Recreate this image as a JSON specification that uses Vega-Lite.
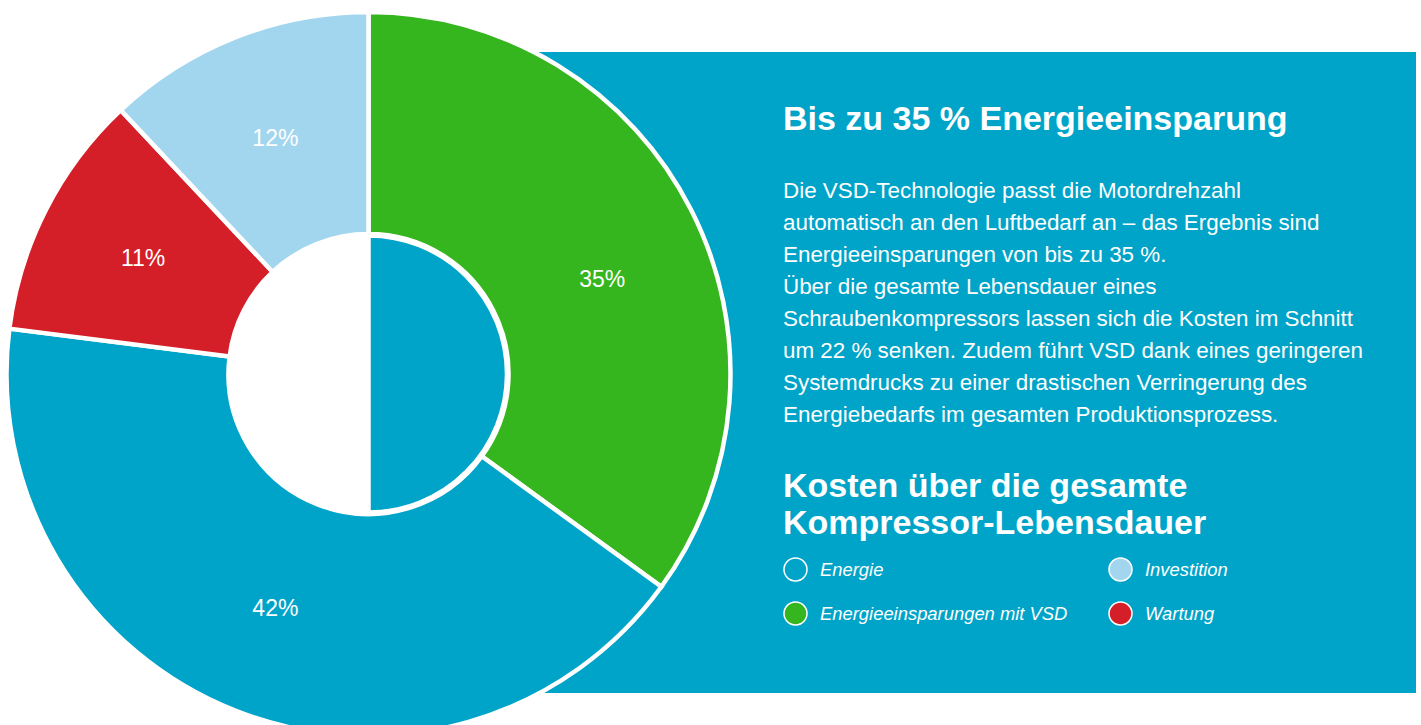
{
  "$schema": "https://vega.github.io/schema/vega-lite/v6.json",
  "width": 737,
  "height": 702,
  "autosize": "none",
  "padding": {"left": 0, "top": 23, "right": 684, "bottom": 0},
  "background": "white",
  "config": {"view": {"stroke": null}, "font": "Liberation Sans", "text": {"font": "Liberation Sans"}},
  "data": {
    "values": [
      {"name": "Energieeinsparungen mit VSD", "share": 0.35, "seq": 1},
      {"name": "Energie", "share": 0.42, "seq": 2},
      {"name": "Wartung", "share": 0.11, "seq": 3},
      {"name": "Investition", "share": 0.12, "seq": 4}
    ]
  },
  "layer": [
    {
      "data": {"values": [{"region": "panel"}]},
      "mark": {"type": "rect", "fill": "#00a4c8"},
      "encoding": {
        "x": {"datum": 520, "type": "quantitative", "scale": {"domain": [0, 737], "zero": false, "nice": false}, "axis": null},
        "x2": {"datum": 1416},
        "y": {"datum": 52, "type": "quantitative", "scale": {"domain": [23, 725], "reverse": true, "zero": false, "nice": false}, "axis": null},
        "y2": {"datum": 693}
      }
    },
    {
      "mark": {"type": "arc", "outerRadius": 362, "innerRadius": 140, "stroke": "white", "strokeWidth": 4.5},
      "encoding": {
        "theta": {"field": "share", "type": "quantitative", "stack": true},
        "order": {"field": "seq", "type": "quantitative"},
        "color": {
          "field": "name",
          "type": "nominal",
          "scale": {
            "domain": ["Energie", "Investition", "Energieeinsparungen mit VSD", "Wartung"],
            "range": ["#00a4c8", "#a2d6ee", "#35b51e", "#d51f28"]
          },
          "legend": {
            "orient": "none",
            "direction": "horizontal",
            "legendX": 783,
            "legendY": 534,
            "title": null,
            "columns": 2,
            "columnPadding": 38,
            "rowPadding": 15,
            "symbolType": "circle",
            "symbolSize": 529,
            "symbolStrokeColor": "white",
            "symbolStrokeWidth": 1.5,
            "labelFont": "Liberation Sans",
            "labelFontSize": 18.4,
            "labelFontStyle": "italic",
            "labelColor": "white",
            "labelOffset": 12,
            "labelLimit": 400,
            "padding": 0
          }
        }
      }
    },
    {
      "transform": [{"filter": "datum.name === 'Energie'"}],
      "mark": {"type": "arc", "theta": 0, "theta2": 3.14159265, "outerRadius": 138.5, "innerRadius": 0, "fill": "#00a4c8", "stroke": "white", "strokeWidth": 4.5},
      "encoding": {}
    },
    {
      "mark": {"type": "text", "radius": 253, "fontSize": 23, "fill": "white", "align": "center", "baseline": "middle"},
      "encoding": {
        "theta": {"field": "share", "type": "quantitative", "stack": true},
        "order": {"field": "seq", "type": "quantitative"},
        "detail": {"field": "name", "type": "nominal"},
        "text": {
          "condition": {"test": "datum.name !== 'Energieeinsparungen mit VSD'", "field": "share", "type": "quantitative", "format": ".0%"},
          "value": ""
        }
      }
    },
    {
      "mark": {"type": "text", "radius": 252, "fontSize": 23, "fill": "white", "align": "center", "baseline": "middle"},
      "encoding": {
        "theta": {"field": "share", "type": "quantitative", "stack": true, "bandPosition": 0.54},
        "order": {"field": "seq", "type": "quantitative"},
        "detail": {"field": "name", "type": "nominal"},
        "text": {
          "condition": {"test": "datum.name === 'Energieeinsparungen mit VSD'", "field": "share", "type": "quantitative", "format": ".0%"},
          "value": ""
        }
      }
    },
    {
      "data": {"values": [{"text": "Bis zu 35 % Energieeinsparung"}]},
      "mark": {"type": "text", "fontSize": 34, "fontWeight": "bold", "fill": "white", "align": "left", "baseline": "alphabetic"},
      "encoding": {
        "text": {"field": "text", "type": "nominal"},
        "x": {"datum": 783, "type": "quantitative", "scale": {"domain": [0, 737], "zero": false, "nice": false}, "axis": null},
        "y": {"datum": 130, "type": "quantitative", "scale": {"domain": [23, 725], "reverse": true, "zero": false, "nice": false}, "axis": null}
      }
    },
    {
      "data": {"values": [{"text": "Die VSD-Technologie passt die Motordrehzahl\nautomatisch an den Luftbedarf an – das Ergebnis sind\nEnergieeinsparungen von bis zu 35 %.\nÜber die gesamte Lebensdauer eines\nSchraubenkompressors lassen sich die Kosten im Schnitt\num 22 % senken. Zudem führt VSD dank eines geringeren\nSystemdrucks zu einer drastischen Verringerung des\nEnergiebedarfs im gesamten Produktionsprozess."}]},
      "mark": {"type": "text", "fontSize": 22.4, "fill": "white", "align": "left", "baseline": "alphabetic", "lineBreak": "\n", "lineHeight": 32},
      "encoding": {
        "text": {"field": "text", "type": "nominal"},
        "x": {"datum": 783, "type": "quantitative", "scale": {"domain": [0, 737], "zero": false, "nice": false}, "axis": null},
        "y": {"datum": 198, "type": "quantitative", "scale": {"domain": [23, 725], "reverse": true, "zero": false, "nice": false}, "axis": null}
      }
    },
    {
      "data": {"values": [{"text": "Kosten über die gesamte\nKompressor-Lebensdauer"}]},
      "mark": {"type": "text", "fontSize": 34, "fontWeight": "bold", "fill": "white", "align": "left", "baseline": "alphabetic", "lineBreak": "\n", "lineHeight": 37},
      "encoding": {
        "text": {"field": "text", "type": "nominal"},
        "x": {"datum": 783, "type": "quantitative", "scale": {"domain": [0, 737], "zero": false, "nice": false}, "axis": null},
        "y": {"datum": 497, "type": "quantitative", "scale": {"domain": [23, 725], "reverse": true, "zero": false, "nice": false}, "axis": null}
      }
    }
  ]
}
